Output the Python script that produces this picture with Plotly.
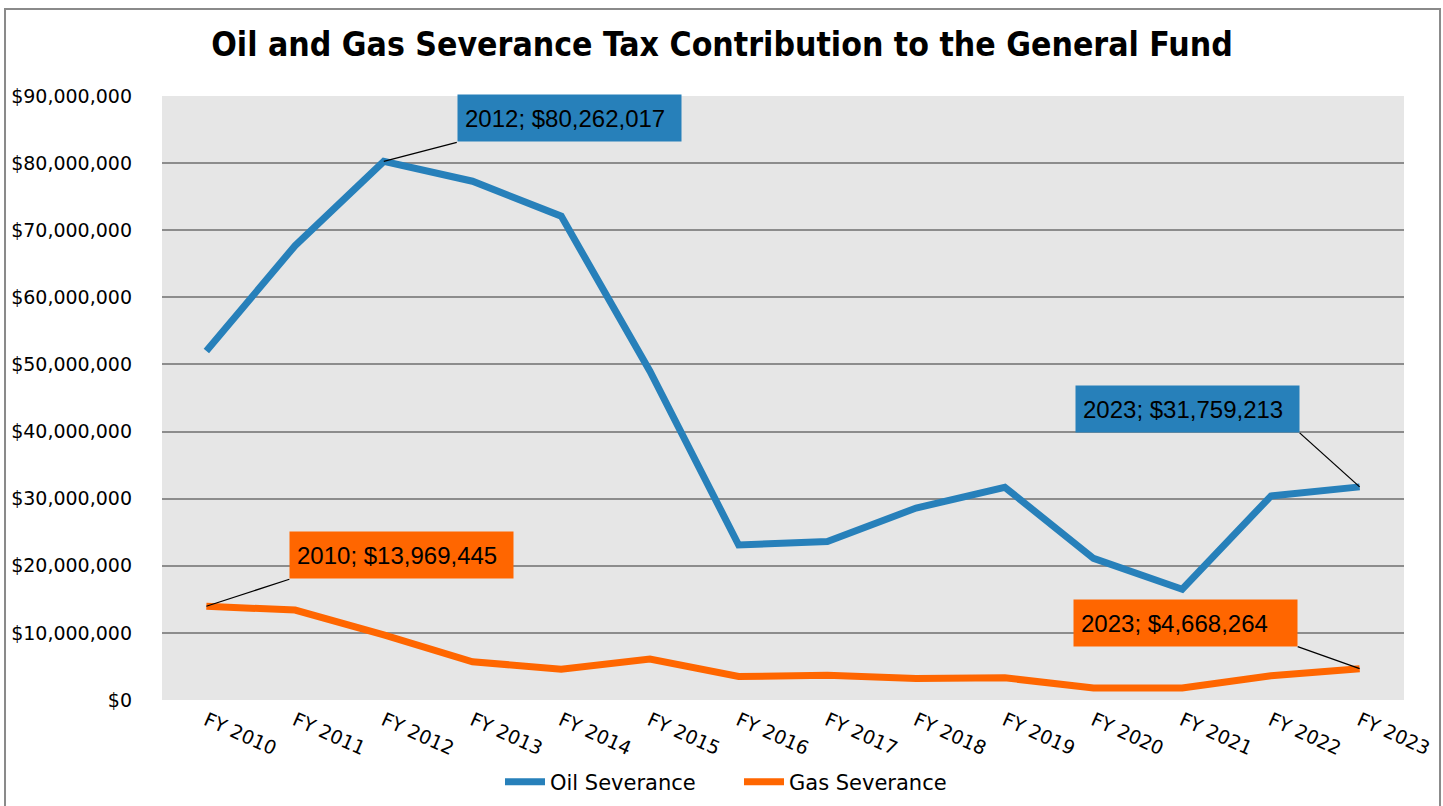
import plotly.graph_objects as go

categories = ["FY 2010", "FY 2011", "FY 2012", "FY 2013", "FY 2014", "FY 2015", "FY 2016",
              "FY 2017", "FY 2018", "FY 2019", "FY 2020", "FY 2021", "FY 2022", "FY 2023"]
oil_severance = [52000000, 67700000, 80262017, 77300000, 72100000, 49000000, 23100000,
                 23600000, 28600000, 31700000, 21100000, 16500000, 30400000, 31759213]
gas_severance = [13969445, 13400000, 9700000, 5700000, 4600000, 6100000, 3500000,
                 3700000, 3200000, 3300000, 1800000, 1800000, 3600000, 4668264]

BLUE = "#2780BA"
ORANGE = "#FF6600"
COND_FONT = "DejaVu Sans Condensed, DejaVu Sans, sans-serif"
TICK_FONT = "DejaVu Sans, sans-serif"

fig = go.Figure()
fig.add_trace(go.Scatter(x=categories, y=oil_severance, name="Oil Severance", mode="lines",
                         line=dict(color=BLUE, width=7)))
fig.add_trace(go.Scatter(x=categories, y=gas_severance, name="Gas Severance", mode="lines",
                         line=dict(color=ORANGE, width=7)))

# callouts: (series values, index, color, dx, dy, anchor)
callouts = [
    (oil_severance, 2, BLUE, 73, 19, "left"),
    (oil_severance, 13, BLUE, -60, 54, "right"),
    (gas_severance, 0, ORANGE, 83, 27, "left"),
    (gas_severance, 13, ORANGE, -62, 22, "right"),
]
for vals, i, col, dx, dy, anc in callouts:
    label = f"{categories[i][3:]}; ${vals[i]:,.0f}"
    fig.add_shape(type="line", xref="x", yref="y", xsizemode="pixel", ysizemode="pixel",
                  xanchor=categories[i], yanchor=vals[i], x0=0, y0=0, x1=dx, y1=dy,
                  line=dict(color="black", width=1.3))
    fig.add_annotation(x=categories[i], y=vals[i], xref="x", yref="y", showarrow=False,
                       text=label, xanchor=anc, yanchor="bottom", xshift=dx, yshift=dy,
                       bgcolor=col, font=dict(family="Liberation Sans, Arial, sans-serif",
                                              size=24, color="black"),
                       width=209, height=32, borderpad=7, align="left")

# outer chart border
fig.add_shape(type="rect", xref="paper", yref="paper", x0=-0.1264, x1=1.0290, y0=-0.2,
              y1=1.144, line=dict(color="#8A8A8A", width=2), fillcolor="rgba(0,0,0,0)")

fig.update_layout(
    width=1443, height=806,
    margin=dict(l=162, r=39, t=96, b=106),
    paper_bgcolor="white",
    plot_bgcolor="#E6E6E6",
    hovermode=False,
    title=dict(text="<b>Oil and Gas Severance Tax Contribution to the General Fund</b>",
               x=722 / 1443, xref="container", xanchor="center", y=1 - 44 / 806,
               yref="container", yanchor="middle", automargin=False,
               font=dict(family=COND_FONT, size=33.5, color="black")),
    showlegend=True,
    legend=dict(orientation="h", xref="container", yref="container",
                x=500 / 1443, xanchor="left", y=1 - 782 / 806, yanchor="middle",
                font=dict(family=TICK_FONT, size=21, color="black"),
                bgcolor="rgba(0,0,0,0)", itemwidth=40, entrywidth=184),
    xaxis=dict(type="category", range=[-0.5, 13.5], tickangle=24, showgrid=False,
               zeroline=False, showline=False, ticks="", automargin=False,
               ticklabelstandoff=5,
               tickfont=dict(family=TICK_FONT, size=19, color="black")),
    yaxis=dict(range=[0, 90000000], dtick=10000000, tickformat="$,.0f",
               showgrid=True, gridcolor="#8C8C8C", gridwidth=2, zeroline=False,
               showline=False, ticks="", ticklabelstandoff=29, automargin=False,
               tickfont=dict(family=TICK_FONT, size=19, color="black")),
)

fig.write_html("out.html",
               config={"responsive": False, "displayModeBar": False},
               post_script="document.body.style.margin='0';")
